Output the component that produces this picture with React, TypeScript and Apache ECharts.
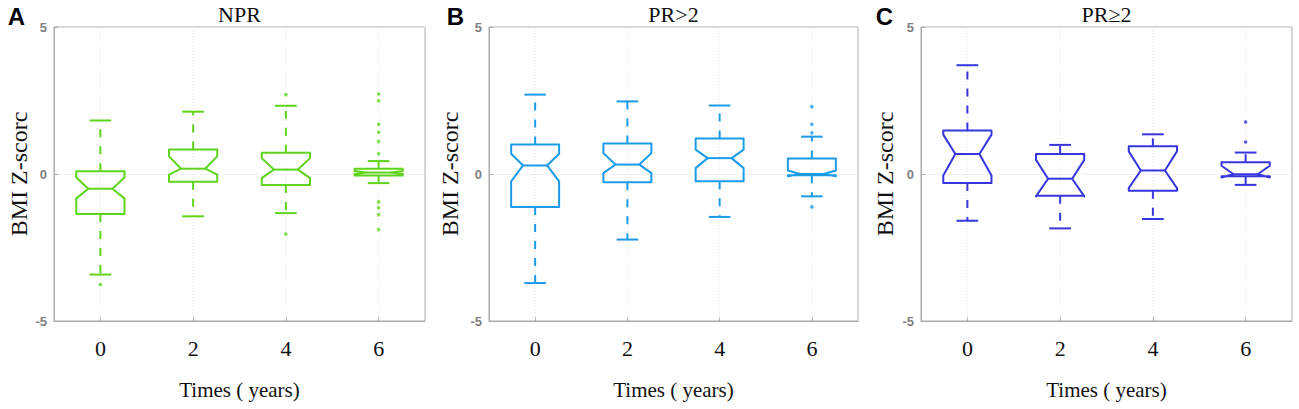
import React, { useEffect, useRef } from "react";
import * as echarts from "echarts";

// ---- data ----
const categories = ["0", "2", "4", "6"];
const panelTitles = ["NPR", "PR>2", "PR≥2"];
const panelLetters = ["A", "B", "C"];

// NPR
const nprLow = [-3.42, -1.44, -1.33, -0.31];
const nprQ1 = [-1.36, -0.26, -0.37, -0.05];
const nprMedian = [-0.5, 0.18, 0.15, 0.05];
const nprQ3 = [0.09, 0.83, 0.72, 0.18];
const nprHigh = [1.82, 2.12, 2.32, 0.44];
const nprNotchLow = [-0.83, -0.02, -0.14, 0.0];
const nprNotchHigh = [-0.12, 0.6, 0.54, 0.1];
const nprOutliers: [number, number][] = [
  [0, -3.76], [2, 2.7], [2, -2.04],
  [3, 2.72], [3, 2.49], [3, 1.69], [3, 1.42], [3, 1.11], [3, 0.69],
  [3, -0.95], [3, -1.15], [3, -1.38], [3, -1.89],
];

// PR>2
const prGtLow = [-3.71, -2.23, -1.46, -0.76];
const prGtQ1 = [-1.12, -0.28, -0.25, -0.04];
const prGtMedian = [0.29, 0.32, 0.54, 0.0];
const prGtQ3 = [1.0, 1.04, 1.21, 0.53];
const prGtHigh = [2.7, 2.47, 2.33, 1.27];
const prGtNotchLow = [-0.25, 0.03, 0.2, -0.08];
const prGtNotchHigh = [0.69, 0.71, 0.83, 0.12];
const prGtOutliers: [number, number][] = [
  [3, 2.29], [3, 1.69], [3, 1.4], [3, -1.12],
];

// PR≥2
const prGeLow = [-1.59, -1.85, -1.53, -0.37];
const prGeQ1 = [-0.31, -0.74, -0.57, -0.08];
const prGeMedian = [0.68, -0.16, 0.12, -0.01];
const prGeQ3 = [1.48, 0.68, 0.94, 0.4];
const prGeHigh = [3.7, 0.99, 1.35, 0.73];
const prGeNotchLow = [-0.05, -0.76, -0.48, -0.12];
const prGeNotchHigh = [1.34, 0.48, 0.77, 0.28];
const prGeOutliers: [number, number][] = [[3, 1.77], [3, 1.09]];

const yMin = -5;
const yMax = 5;
const yStep = 5;

// ---- layout / style ----
const colors = ["#5fd41c", "#1c9be8", "#3636de"];
const grids = [
  { left: 54, width: 371, nameGap: 23, letterX: 16.5 },
  { left: 489, width: 369, nameGap: 27, letterX: 455.5 },
  { left: 921, width: 371, nameGap: 24, letterX: 884.5 },
];
const gridTop = 27;
const gridHeight = 294;
const frameColor = "#aaaaaa";
const serif = "'Liberation Serif', 'Times New Roman', serif";
const sans = "'Liberation Sans', Arial, sans-serif";

function buildBoxData(lo: number[], q1: number[], med: number[], q3: number[], hi: number[], nlo: number[], nhi: number[]) {
  return categories.map((_, i) => [i, lo[i], q1[i], med[i], q3[i], hi[i], nlo[i], nhi[i]]);
}

const panels = [
  { box: buildBoxData(nprLow, nprQ1, nprMedian, nprQ3, nprHigh, nprNotchLow, nprNotchHigh), outliers: nprOutliers },
  { box: buildBoxData(prGtLow, prGtQ1, prGtMedian, prGtQ3, prGtHigh, prGtNotchLow, prGtNotchHigh), outliers: prGtOutliers },
  { box: buildBoxData(prGeLow, prGeQ1, prGeMedian, prGeQ3, prGeHigh, prGeNotchLow, prGeNotchHigh), outliers: prGeOutliers },
];

export default function App() {
  const ref = useRef<HTMLDivElement>(null);

  useEffect(() => {
    if (!ref.current) return;
    const chart = echarts.init(ref.current, undefined, { renderer: "svg" });

    const option: any = {
      animation: false,
      backgroundColor: "#ffffff",
      grid: grids.map((g) => ({
        left: g.left,
        top: gridTop,
        width: g.width,
        height: gridHeight,
        show: true,
        borderColor: frameColor,
        borderWidth: 1,
        backgroundColor: "transparent",
      })),
      xAxis: grids.map((g, i) => ({
        gridIndex: i,
        type: "category",
        data: categories,
        boundaryGap: true,
        axisLine: { show: true, onZero: false, lineStyle: { color: frameColor, width: 1 } },
        axisTick: { show: true, inside: true, alignWithLabel: true, length: 4, lineStyle: { color: frameColor } },
        axisLabel: { color: "#111", fontFamily: serif, fontSize: 22, margin: 16 },
        splitLine: { show: false },
        name: "Times ( years)",
        nameLocation: "middle",
        nameGap: 58,
        nameTextStyle: { color: "#111", fontFamily: serif, fontSize: 21 },
      })),
      yAxis: grids.map((g, i) => ({
        gridIndex: i,
        type: "value",
        min: yMin,
        max: yMax,
        interval: yStep,
        axisLine: { show: true, onZero: false, lineStyle: { color: frameColor, width: 1 } },
        axisTick: { show: true, inside: true, length: 4, lineStyle: { color: frameColor } },
        axisLabel: { color: "#808080", fontFamily: sans, fontWeight: "bold", fontSize: 13, margin: 7 },
        splitLine: { show: true, lineStyle: { color: "#e6e6e6", type: "dotted" } },
        name: "BMI Z-scorc",
        nameLocation: "middle",
        nameGap: g.nameGap,
        nameTextStyle: { color: "#111", fontFamily: serif, fontSize: 24 },
      })),
      series: [] as any[],
      graphic: [] as any[],
    };

    panels.forEach((p, i) => {
      const color = colors[i];
      // vertical grid lines at category centers
      option.series.push({
        type: "custom",
        xAxisIndex: i,
        yAxisIndex: i,
        silent: true,
        z: 1,
        data: categories.map((_, k) => [k, 0]),
        renderItem: (params: any, api: any) => {
          const x = api.value(0);
          const top = api.coord([x, yMax]);
          const bot = api.coord([x, yMin]);
          return {
            type: "line",
            shape: { x1: top[0], y1: top[1], x2: bot[0], y2: bot[1] },
            style: { stroke: "#e2e2e2", lineWidth: 1, lineDash: [1, 2] },
          };
        },
      });
      // notched boxes
      option.series.push({
        type: "custom",
        xAxisIndex: i,
        yAxisIndex: i,
        z: 3,
        data: p.box,
        renderItem: (params: any, api: any) => {
          const x = api.value(0);
          const lo = api.value(1);
          const q1 = api.value(2);
          const med = api.value(3);
          const q3 = api.value(4);
          const hi = api.value(5);
          const nlo = api.value(6);
          const nhi = api.value(7);
          const band = api.size([1, 0])[0];
          const bw = band * 0.52;
          const px = api.coord([x, med])[0];
          const Y = (v: number) => api.coord([x, v])[1];
          const L = px - bw / 2;
          const R = px + bw / 2;
          const d = bw / 4;
          const cap = bw * 0.45;
          const lw = 2;
          return {
            type: "group",
            children: [
              {
                type: "line",
                shape: { x1: px, y1: Y(q3), x2: px, y2: Y(hi) },
                style: { stroke: color, lineWidth: lw, lineDash: [8, 9] },
              },
              {
                type: "line",
                shape: { x1: px, y1: Y(q1), x2: px, y2: Y(lo) },
                style: { stroke: color, lineWidth: lw, lineDash: [8, 9] },
              },
              {
                type: "line",
                shape: { x1: px - cap / 2, y1: Y(hi), x2: px + cap / 2, y2: Y(hi) },
                style: { stroke: color, lineWidth: lw },
              },
              {
                type: "line",
                shape: { x1: px - cap / 2, y1: Y(lo), x2: px + cap / 2, y2: Y(lo) },
                style: { stroke: color, lineWidth: lw },
              },
              {
                type: "polygon",
                shape: {
                  points: [
                    [L, Y(q1)], [L, Y(nlo)], [L + d, Y(med)], [L, Y(nhi)], [L, Y(q3)],
                    [R, Y(q3)], [R, Y(nhi)], [R - d, Y(med)], [R, Y(nlo)], [R, Y(q1)],
                  ],
                },
                style: { fill: "none", stroke: color, lineWidth: lw, lineJoin: "round" },
              },
              {
                type: "line",
                shape: { x1: L + d, y1: Y(med), x2: R - d, y2: Y(med) },
                style: { stroke: color, lineWidth: lw },
              },
            ],
          };
        },
      });
      // outliers
      option.series.push({
        type: "scatter",
        xAxisIndex: i,
        yAxisIndex: i,
        z: 4,
        symbol: "circle",
        symbolSize: 3.6,
        itemStyle: { color },
        data: p.outliers,
      });

      const g = grids[i];
      option.graphic.push({
        type: "text",
        x: g.left + g.width / 2,
        y: 14,
        style: {
          text: panelTitles[i],
          font: `22px ${serif}`,
          fill: "#111",
          align: "center",
          verticalAlign: "middle",
        },
      });
      option.graphic.push({
        type: "text",
        x: g.letterX,
        y: 16,
        style: {
          text: panelLetters[i],
          font: `bold 24px ${sans}`,
          fill: "#000",
          align: "center",
          verticalAlign: "middle",
        },
      });
    });

    chart.setOption(option);
    return () => chart.dispose();
  }, []);

  return (
    <div
      ref={ref}
      style={{ position: "fixed", left: 0, top: 0, width: 1299, height: 409, background: "#fff" }}
    />
  );
}
